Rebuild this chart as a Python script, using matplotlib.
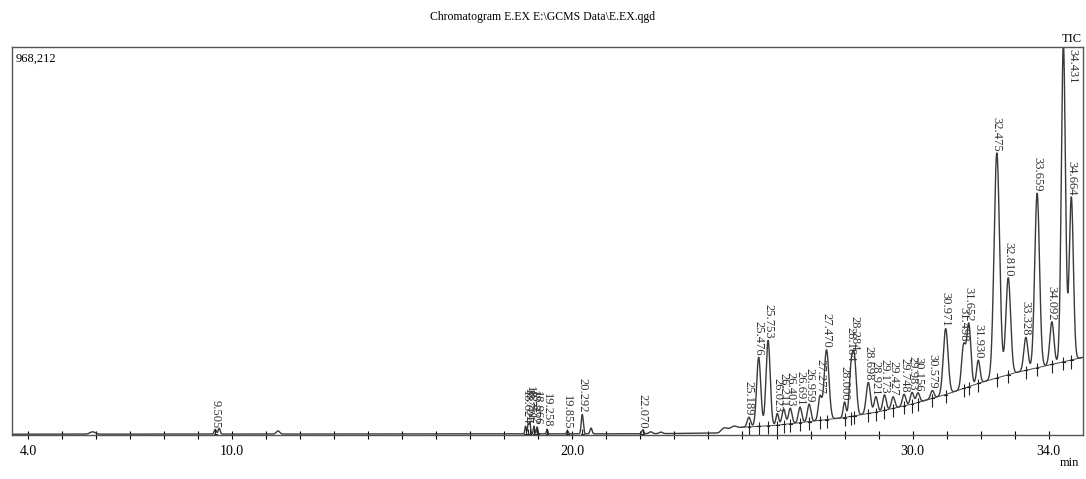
import numpy as np
import matplotlib.pyplot as plt

# tiempos de retencion (min), altura relativa y ancho de cada pico
rt = [5.90, 9.505, 9.62, 11.35,
      18.624, 18.701, 18.751, 18.872, 18.966, 19.258,
      19.855, 20.292, 20.55, 22.070, 22.30, 22.60, 24.45, 24.75,
      25.189, 25.476, 25.753,
      26.023, 26.211, 26.403, 26.691, 26.959, 27.277, 27.470,
      28.000, 28.184, 28.284, 28.698, 28.921, 29.173, 29.427,
      29.748, 29.983, 30.156, 30.579,
      30.971, 31.498, 31.652, 31.930,
      32.475, 32.810, 33.328, 33.659, 34.092, 34.431, 34.664]
alto = [0.006, 0.012, 0.015, 0.008,
        0.020, 0.025, 0.030, 0.020, 0.018, 0.012,
        0.008, 0.050, 0.015, 0.010, 0.005, 0.004, 0.008, 0.006,
        0.025, 0.178, 0.220,
        0.030, 0.040, 0.040, 0.040, 0.045, 0.060, 0.180,
        0.040, 0.100, 0.150, 0.080, 0.040, 0.040, 0.030,
        0.030, 0.030, 0.025, 0.020,
        0.170, 0.110, 0.160, 0.060,
        0.580, 0.250, 0.085, 0.450, 0.110, 0.820, 0.420]
ancho = [0.08, 0.03, 0.03, 0.05,
         0.02, 0.02, 0.02, 0.02, 0.02, 0.02,
         0.025, 0.03, 0.03, 0.03, 0.05, 0.05, 0.08, 0.08,
         0.05, 0.06, 0.06,
         0.04, 0.05, 0.05, 0.05, 0.05, 0.05, 0.07,
         0.04, 0.05, 0.06, 0.06, 0.05, 0.05, 0.05,
         0.05, 0.05, 0.05, 0.05,
         0.07, 0.06, 0.06, 0.05,
         0.08, 0.07, 0.06, 0.07, 0.06, 0.06, 0.06]

# picos con etiqueta
rt_etiq = [9.505, 18.624, 18.701, 18.751, 18.872, 18.966, 19.258, 19.855,
           20.292, 22.070, 25.189, 25.476, 25.753, 26.023, 26.211, 26.403,
           26.691, 26.959, 27.277, 27.470, 28.000, 28.184, 28.284, 28.698,
           28.921, 29.173, 29.427, 29.748, 29.983, 30.156, 30.579, 30.971,
           31.498, 31.652, 31.930, 32.475, 32.810, 33.328, 33.659, 34.092,
           34.431, 34.664]

# linea de base (min, altura relativa)
base_t = [3.5, 22.0, 24.3, 24.6, 25.0, 26.0, 27.0, 28.0, 29.0, 30.0,
          31.0, 32.0, 33.0, 34.0, 35.0]
base_y = [0.002, 0.003, 0.005, 0.015, 0.020, 0.025, 0.035, 0.045, 0.060,
          0.080, 0.105, 0.135, 0.160, 0.180, 0.200]

ticks_x = list(range(4, 35))
ticks_etiq = {4: "4.0", 10: "10.0", 20: "20.0", 30: "30.0", 34: "34.0"}

plt.rcParams['font.family'] = ['Liberation Serif', 'DejaVu Serif']

t = np.linspace(3.5, 35.0, 6000)
senal = np.interp(t, base_t, base_y)
for r, a, w in zip(rt, alto, ancho):
    senal = senal + a * np.exp(-0.5 * ((t - r) / w) ** 2)

fig = plt.figure(figsize=(10.86, 4.79), dpi=100)
ax = fig.add_axes([0.011, 0.0919, 0.986, 0.81])

ax.plot(t, senal, color="#3a3a3a", lw=1.0)

# linea de integracion
mask = np.array(base_t) >= 25.0
ax.plot(np.array(base_t)[mask], np.array(base_y)[mask], color="#444444", lw=0.7)

for r in rt_etiq:
    b = np.interp(r, base_t, base_y)
    tope = np.interp(r, t, senal)
    ax.vlines(r, b - 0.022, b + 0.012, color="#222222", lw=0.8)
    ax.plot([r - 0.04, r + 0.04], [b, b], color="#222222", lw=0.8)
    if tope > 0.95:
        # el pico mayor llega al borde: etiqueta dentro del marco
        ax.text(r + 0.27, 0.995, "%.3f" % r, rotation=270, ha="center",
                va="top", fontsize=9, color="#333333")
    else:
        ax.text(r, tope + 0.004, "%.3f" % r, rotation=270, ha="center",
                va="bottom", fontsize=9, color="#333333")

ax.set_xlim(3.53, 35.0)
ax.set_ylim(0, 1.0)
ax.set_xticks(ticks_x)
ax.set_xticklabels([ticks_etiq.get(k, "") for k in ticks_x], fontsize=10)
ax.tick_params(axis="x", direction="inout", length=6, width=0.8, pad=4)
ax.set_yticks([])
for s in ax.spines.values():
    s.set_color("#555555")
    s.set_linewidth(1.0)

ax.text(0.003, 0.985, "968,212", transform=ax.transAxes, ha="left", va="top",
        fontsize=9)
ax.text(0.99, 1.005, "TIC", transform=ax.transAxes, ha="center",
        va="bottom", fontsize=9)
fig.text(0.985, 0.02, "min", ha="center", va="bottom", fontsize=9)
fig.text(0.5, 0.965, "Chromatogram E.EX E:\\GCMS Data\\E.EX.qgd",
         ha="center", va="center", fontsize=8.5)

plt.savefig("out.png", dpi=100)
